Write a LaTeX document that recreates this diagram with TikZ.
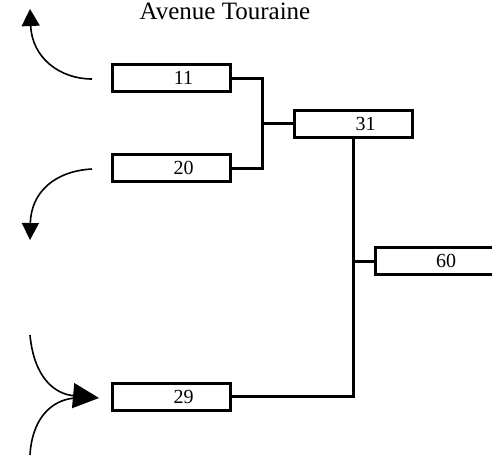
\documentclass[tikz,border=0pt]{standalone}
\usepackage{fontspec}
\setmainfont{Liberation Serif}
\usetikzlibrary{arrows.meta}
\begin{document}
\begin{tikzpicture}[x=1pt,y=-1pt,
  boxnode/.style={draw,line width=3pt,rectangle,minimum width=118pt,minimum height=27pt,inner sep=0pt,font=\fontsize{20}{22}\selectfont},
  conn/.style={line width=3pt},
  curvearrow/.style={line width=1.6pt}]
\useasboundingbox (0,0) rectangle (492,458);
\clip (0,0) rectangle (492,458);
\node[anchor=base,inner sep=0pt,font=\fontsize{25}{28}\selectfont] (title) at (225,19.5) {Avenue Touraine};
\node[boxnode] (b11) at (171.5,78) {\hspace*{24pt}11};
\node[boxnode] (b20) at (171.5,168) {\hspace*{24pt}20};
\node[boxnode] (b29) at (171.5,396.5) {\hspace*{24pt}29};
\node[boxnode] (b31) at (353.5,123.5) {\hspace*{24pt}31};
\node[boxnode] (b60) at (434,261) {\hspace*{24pt}60};
\coordinate (j1) at (262,123.5);
\coordinate (j2) at (353.5,261);
\coordinate (j3) at (353.5,396.5);
\draw[conn] (b11.east) -| (j1) |- (b20.east);
\draw[conn] (j1) -- (b31.west);
\draw[conn] (b31.south) -- (j3) -- (b29.east);
\draw[conn] (j2) -- (b60.west);
% curved arrows
\coordinate (s1) at (92,79);
\coordinate (t1) at (30,9);
\draw[curvearrow,-{Triangle[length=17pt,width=18pt]}] (s1) .. controls (60,79) and (32,58) .. (t1);
\coordinate (s2) at (92,169);
\coordinate (t2) at (30,240);
\draw[curvearrow,-{Triangle[length=17pt,width=17pt]}] (s2) .. controls (55,171) and (31,192) .. (t2);
\coordinate (s3) at (30,335);
\coordinate (s4) at (30,455);
\coordinate (t3) at (99,398);
\draw[curvearrow,-{Triangle[length=26pt,width=25pt]}] (s3) .. controls (34,378) and (55,394) .. (t3);
\draw[curvearrow] (s4) .. controls (32,420) and (50,400) .. (75,398);
\end{tikzpicture}
\end{document}
